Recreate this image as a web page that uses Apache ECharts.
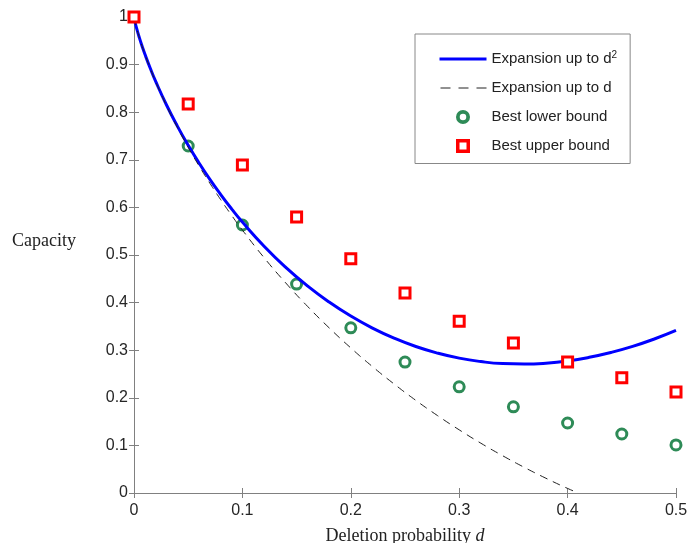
<!DOCTYPE html>
<html><head><meta charset="utf-8">
<script src="https://cdn.jsdelivr.net/npm/echarts@6/dist/echarts.min.js"></script>
<style>html,body{margin:0;padding:0;background:#fff}#c{width:688px;height:543px}</style>
</head><body><div id="c"></div>
<script>
// Expansion up to d^2
const dFine = [0,0.001,0.0025,0.005,0.0075,0.01,0.015,0.02,0.03,0.04,0.05,0.06,0.07,0.08,0.09,0.10,0.12,0.14,0.16,0.18,0.20,0.22,0.24,0.26,0.28,0.30,0.32,0.34,0.36,0.38,0.40,0.42,0.44,0.46,0.48,0.50];
const expD2 = [1,0.9889,0.9755,0.9561,0.9385,0.9222,0.8922,0.8647,0.8151,0.7708,0.7304,0.6933,0.6589,0.6269,0.5970,0.5691,0.5185,0.4741,0.4352,0.4012,0.3717,0.3465,0.3253,0.3078,0.2939,0.2833,0.2761,0.2719,0.2709,0.2727,0.2774,0.2850,0.2952,0.3080,0.3235,0.3415];
// Expansion up to d (dashed curve)
const dDash = [0,0.001,0.0025,0.005,0.0075,0.01,0.015,0.02,0.03,0.04,0.05,0.06,0.07,0.08,0.09,0.10,0.12,0.14,0.16,0.18,0.20,0.22,0.24,0.26,0.28,0.30,0.32,0.34,0.36,0.38,0.40,0.41];
const expD = [1,0.9889,0.9755,0.9560,0.9384,0.9220,0.8918,0.8640,0.8136,0.7681,0.7262,0.6872,0.6507,0.6162,0.5835,0.5524,0.4944,0.4413,0.3923,0.3470,0.3048,0.2655,0.2289,0.1946,0.1626,0.1327,0.1046,0.0784,0.0539,0.0310,0.0096,0.0];
// Bounds
const dLower = [0.05,0.10,0.15,0.20,0.25,0.30,0.35,0.40,0.45,0.50];
const lowerBound = [0.729,0.563,0.439,0.347,0.275,0.223,0.181,0.147,0.124,0.101];
const dUpper = [0,0.05,0.10,0.15,0.20,0.25,0.30,0.35,0.40,0.45,0.50];
const upperBound = [1.0,0.817,0.689,0.580,0.492,0.420,0.361,0.315,0.275,0.242,0.212];
const xTicks = [0,0.1,0.2,0.3,0.4,0.5];
const yTicks = [0,0.1,0.2,0.3,0.4,0.5,0.6,0.7,0.8,0.9,1];

const zip = (xs, ys) => xs.map((x, i) => [x, ys[i]]);
const axisGray = '#808080';
const green = '#2e8b57', red = '#ff0000', blue = '#0000ff';
const lbl = {color:'#262626', fontFamily:'Liberation Sans, Arial, sans-serif', fontSize:16};
const fmt = arr => v => { const m = arr.find(t => Math.abs(t - v) < 1e-9); return m === undefined ? '' : String(m); };
const ringIcon = 'path://M6,0A6,6 0 1,1 6,12A6,6 0 1,1 6,0Z M6,3.2A2.8,2.8 0 1,0 6,8.8A2.8,2.8 0 1,0 6,3.2Z';
const sqIcon = 'path://M0,0H12V12H0Z M3,3V9H9V3Z';

const chart = echarts.init(document.getElementById('c'), null, {renderer:'canvas'});
chart.setOption({
  animation:false,
  backgroundColor:'#fff',
  grid:{left:134, right:12, top:17, bottom:50, containLabel:false, outerBoundsMode:'none'},
  xAxis:[{
    type:'value', min:0, max:0.5, interval:0.1, position:'bottom',
    name:'{n|Deletion probability }{i|d}', nameLocation:'middle', nameGap:34,
    nameTextStyle:{rich:{n:{fontFamily:'Liberation Serif, Times New Roman, serif', fontSize:18, color:'#222'}, i:{fontFamily:'Liberation Serif, Times New Roman, serif', fontStyle:'italic', fontSize:18, color:'#222'}}},
    axisLine:{lineStyle:{color:axisGray, width:1}},
    axisTick:{inside:true, length:5, lineStyle:{color:axisGray}},
    axisLabel:Object.assign({margin:10, formatter:fmt(xTicks)}, lbl),
    splitLine:{show:false}
  },{
    type:'value', min:0, max:0.5, interval:0.1, position:'top',
    axisLine:{show:true, lineStyle:{color:axisGray, width:1}},
    axisTick:{show:true, inside:true, length:5, lineStyle:{color:axisGray}},
    axisLabel:{show:false}, splitLine:{show:false}
  }],
  yAxis:[{
    type:'value', min:0, max:1, interval:0.1, position:'left',
    axisLine:{show:true, lineStyle:{color:axisGray, width:1}},
    axisTick:{show:true, inside:true, length:5, lineStyle:{color:axisGray}},
    axisLabel:Object.assign({margin:6, formatter:fmt(yTicks)}, lbl),
    splitLine:{show:false}
  },{
    type:'value', min:0, max:1, interval:0.1, position:'right',
    axisLine:{show:true, lineStyle:{color:axisGray, width:1}},
    axisTick:{show:true, inside:true, length:5, lineStyle:{color:axisGray}},
    axisLabel:{show:false}, splitLine:{show:false}
  }],
  graphic:[{
    type:'text', left:12, top:232,
    style:{text:'Capacity', fontFamily:'Liberation Serif, Times New Roman, serif', fontSize:18, fill:'#222'}
  }],
  legend:{
    orient:'vertical', left:415, top:34,
    padding:[16,13,10,23], itemGap:14, itemWidth:47, itemHeight:14,
    borderColor:'#888', borderWidth:1, backgroundColor:'#fff',
    selectedMode:false,
    textStyle:{color:'#222', fontFamily:'Liberation Sans, Arial, sans-serif', fontSize:15,
      rich:{t:{fontFamily:'Liberation Sans, Arial, sans-serif', fontSize:15, color:'#222'},
            s:{fontFamily:'Liberation Sans, Arial, sans-serif', fontSize:10, color:'#222', verticalAlign:'top', padding:[0,0,8,0]}}},
    formatter: n => n === 'Expansion up to d^2' ? '{t|Expansion up to d}{s|2}' : '{t|' + n + '}',
    data:[
      {name:'Expansion up to d^2', itemStyle:{opacity:0}, lineStyle:{width:3, color:blue}},
      {name:'Expansion up to d', itemStyle:{opacity:0}, lineStyle:{width:1, color:'#222', type:[10,8], dashOffset:-1}},
      {name:'Best lower bound', icon:ringIcon, itemStyle:{color:green, borderWidth:0}},
      {name:'Best upper bound', icon:sqIcon, itemStyle:{color:red, borderWidth:0}}
    ]
  },
  series:[
    {name:'Expansion up to d^2', type:'line', data:zip(dFine, expD2), smooth:true, showSymbol:false, symbol:'none',
     lineStyle:{color:blue, width:3}, itemStyle:{color:blue}, z:3},
    {name:'Expansion up to d', type:'line', data:zip(dDash, expD), smooth:true, showSymbol:false, symbol:'none',
     lineStyle:{color:'#222', width:1, type:[8,6]}, itemStyle:{color:'#222'}, z:3},
    {name:'Best lower bound', type:'scatter', data:zip(dLower, lowerBound), symbol:'circle', symbolSize:10,
     itemStyle:{color:'#fff', borderColor:green, borderWidth:3, opacity:1}, z:2},
    {name:'Best upper bound', type:'scatter', data:zip(dUpper, upperBound), symbol:'rect', symbolSize:10,
     itemStyle:{color:'#fff', borderColor:red, borderWidth:3, opacity:1}, z:4}
  ]
});
</script></body></html>
